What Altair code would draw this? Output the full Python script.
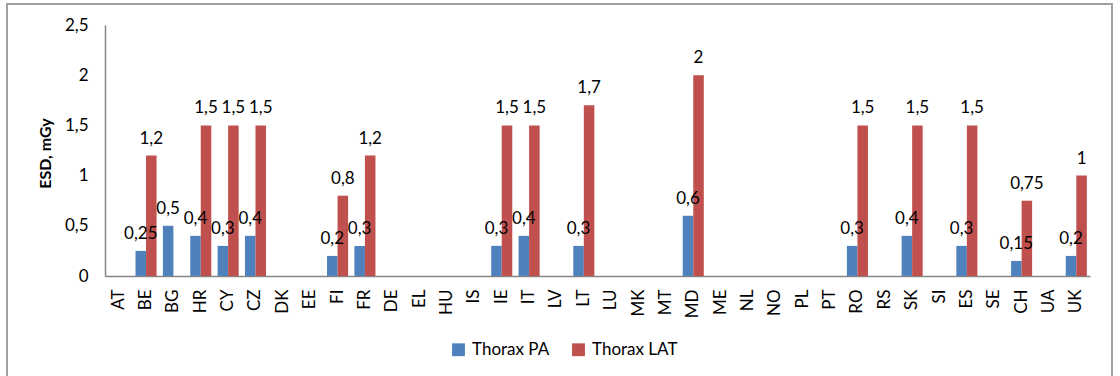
import altair as alt
import pandas as pd

countries = ["AT", "BE", "BG", "HR", "CY", "CZ", "DK", "EE", "FI", "FR", "DE", "EL",
             "HU", "IS", "IE", "IT", "LV", "LT", "LU", "MK", "MT", "MD", "ME", "NL",
             "NO", "PL", "PT", "RO", "RS", "SK", "SI", "ES", "SE", "CH", "UA", "UK"]

# ESD per country (mGy); None = no value reported
thorax_pa = [None, 0.25, 0.5, 0.4, 0.3, 0.4, None, None, 0.2, 0.3, None, None,
             None, None, 0.3, 0.4, None, 0.3, None, None, None, 0.6, None, None,
             None, None, None, 0.3, None, 0.4, None, 0.3, None, 0.15, None, 0.2]
thorax_lat = [None, 1.2, None, 1.5, 1.5, 1.5, None, None, 0.8, 1.2, None, None,
              None, None, 1.5, 1.5, None, 1.7, None, None, None, 2.0, None, None,
              None, None, None, 1.5, None, 1.5, None, 1.5, None, 0.75, None, 1.0]

series_names = ["Thorax PA", "Thorax LAT"]
series_colors = ["#4F81BD", "#C0504D"]

rows = []
for c, pa, lat in zip(countries, thorax_pa, thorax_lat):
    if pa is not None:
        rows.append({"country": c, "series": "Thorax PA", "value": pa})
    if lat is not None:
        rows.append({"country": c, "series": "Thorax LAT", "value": lat})
df = pd.DataFrame(rows)

FONT = "Lato"
FS = 17
W, H = 985, 251

x_enc = alt.X("country:N", sort=countries, title=None,
              scale=alt.Scale(domain=countries, paddingInner=0.23, paddingOuter=0.115),
              axis=alt.Axis(labelAngle=-90, ticks=False, labelPadding=13,
                            labelFontSize=FS, labelFont=FONT, labelColor="#000000",
                            domainColor="#868686", domainWidth=1.5))
xoff_enc = alt.XOffset("series:N", scale=alt.Scale(domain=series_names))
y_enc = alt.Y("value:Q", title="ESD, mGy",
              scale=alt.Scale(domain=[0, 2.5], nice=False),
              axis=alt.Axis(values=[0, 0.5, 1, 1.5, 2, 2.5], grid=False, ticks=False,
                            format="~g",
                            labelPadding=17, labelFontSize=FS, labelFont=FONT,
                            labelColor="#000000",
                            labelExpr="replace(datum.label, '.', ',')",
                            domainColor="#868686", domainWidth=1.5,
                            titleFont=FONT, titleFontSize=16, titleFontWeight="bold",
                            titleColor="#000000", titleX=-60, titleY=128,
                            titleAlign="center", titleBaseline="middle"))

base = alt.Chart(df)

bars = base.mark_bar().encode(
    x=x_enc,
    xOffset=xoff_enc,
    y=y_enc,
    color=alt.Color("series:N",
                    scale=alt.Scale(domain=series_names, range=series_colors),
                    legend=alt.Legend(title=None, orient="none", direction="horizontal",
                                      legendX=345, legendY=316, symbolType="square",
                                      symbolSize=165, symbolStrokeWidth=0,
                                      labelFont=FONT, labelFontSize=FS,
                                      labelColor="#000000", columnPadding=20,
                                      labelOffset=5)),
)

labels = base.transform_calculate(
    label="replace(toString(datum.value), '.', ',')"
).mark_text(font=FONT, fontSize=FS, color="#000000", baseline="alphabetic",
            align="center", dy=-12).encode(
    x=alt.X("country:N", sort=countries, scale=alt.Scale(domain=countries)),
    xOffset=xoff_enc,
    y="value:Q",
    text="label:N",
)

# outer chart-area frame
frame = alt.Chart(pd.DataFrame({"k": [0]})).mark_rect(
    fill=None, stroke="#A0A0A0", strokeWidth=2
).encode(
    x=alt.value(-98), x2=alt.value(1007), y=alt.value(-21), y2=alt.value(420)
)

chart = alt.layer(frame, bars, labels).properties(
    width=W, height=H,
    autosize=alt.AutoSizeParams(type="none"),
    padding={"left": 105, "top": 25, "right": 30, "bottom": 100},
    background="#FFFFFF",
).configure_view(stroke=None)

chart.save("out.html", embed_options={"renderer": "svg", "actions": False})
